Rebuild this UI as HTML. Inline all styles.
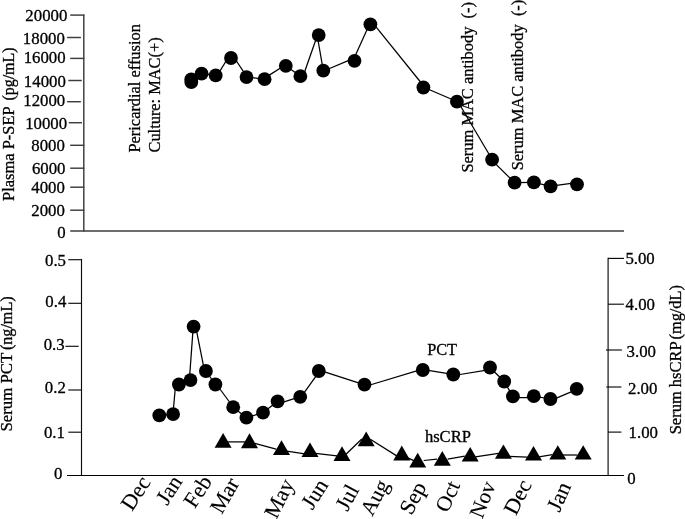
<!DOCTYPE html><html><head><meta charset="utf-8"><title>chart</title><style>html,body{margin:0;padding:0;background:#fff}svg{display:block;filter:grayscale(1)}text{font-family:"Liberation Serif",serif;fill:#000;stroke:#000;stroke-width:0.3px}</style></head><body>
<svg width="685" height="519" viewBox="0 0 685 519">
<rect width="685" height="519" fill="#fff"/>
<g stroke="#3d3d3d" stroke-width="1.45" fill="none">
<path d="M83.8 14.4V231.5"/>
<path d="M70.2 231.0H624"/>
<path d="M70.2 15.1H84.3"/>
<path d="M67.1 37.5H80.9"/>
<path d="M70.2 58.4H84.3"/>
<path d="M68.3 80.5H81.8"/>
<path d="M67.1 101.7H80.9"/>
<path d="M68.8 122.7H82"/>
<path d="M70.2 145.3H84.3"/>
<path d="M70.2 168.2H84.3"/>
<path d="M70.2 187.2H84.3"/>
<path d="M70.2 210.2H84.3"/>
</g>
<g stroke="#0c0c0c" stroke-width="1.15" fill="none">
<path d="M81.5 258.9V475.6"/>
<path d="M67 475.5H624" stroke="#000" stroke-width="1.1"/>
<path d="M68.3 259.7H81.7"/>
<path d="M68.3 303.3H81.7"/>
<path d="M65.4 346.3H78.7"/>
<path d="M68.3 390H81.7"/>
<path d="M68.3 432.2H81.7"/>
<path d="M608.1 257.8V475"/>
<path d="M608 258.4H624.0"/>
<path d="M608 304.2H623.9"/>
<path d="M606 350H621.9"/>
<path d="M606.3 387H621.4"/>
<path d="M608 432.1H621.4"/>
</g>
<text transform="translate(67.3 20.7) scale(1.03 1)" font-size="16.3" text-anchor="end">20000</text>
<text transform="translate(64.8 43.7) scale(1.03 1)" font-size="16.3" text-anchor="end">18000</text>
<text transform="translate(65.6 62.8) scale(1.03 1)" font-size="16.3" text-anchor="end">16000</text>
<text transform="translate(65.8 86.6) scale(1.03 1)" font-size="16.3" text-anchor="end">14000</text>
<text transform="translate(65.19999999999999 105.8) scale(1.03 1)" font-size="16.3" text-anchor="end">12000</text>
<text transform="translate(67.1 128.8) scale(1.03 1)" font-size="16.3" text-anchor="end">10000</text>
<text transform="translate(64.8 151.2) scale(1.03 1)" font-size="16.3" text-anchor="end">8000</text>
<text transform="translate(65.5 174) scale(1.03 1)" font-size="16.3" text-anchor="end">6000</text>
<text transform="translate(64.8 193.2) scale(1.03 1)" font-size="16.3" text-anchor="end">4000</text>
<text transform="translate(64.8 216.4) scale(1.03 1)" font-size="16.3" text-anchor="end">2000</text>
<text transform="translate(65.6 237.8) scale(1.03 1)" font-size="16.3" text-anchor="end">0</text>
<text transform="translate(66.0 265.5) scale(1.03 1)" font-size="16.3" text-anchor="end">0.5</text>
<text transform="translate(66.3 306.6) scale(1.03 1)" font-size="16.3" text-anchor="end">0.4</text>
<text transform="translate(64.7 349.9) scale(1.03 1)" font-size="16.3" text-anchor="end">0.3</text>
<text transform="translate(65.8 393.2) scale(1.03 1)" font-size="16.3" text-anchor="end">0.2</text>
<text transform="translate(64.9 438.4) scale(1.03 1)" font-size="16.3" text-anchor="end">0.1</text>
<text transform="translate(62.5 478.6) scale(1.03 1)" font-size="16.3" text-anchor="end">0</text>
<text transform="translate(625.4 264.3) scale(1.03 1)" font-size="16.3">5.00</text>
<text transform="translate(625.6 310.0) scale(1.03 1)" font-size="16.3">4.00</text>
<text transform="translate(626.6 356.5) scale(1.03 1)" font-size="16.3">3.00</text>
<text transform="translate(628.0 394.4) scale(1.03 1)" font-size="16.3">2.00</text>
<text transform="translate(628.6 437.5) scale(1.03 1)" font-size="16.3">1.00</text>
<text transform="translate(627.2 483.5) scale(1.03 1)" font-size="16.3">0</text>
<text transform="translate(14.2 200.9) rotate(-90) scale(1.008 1)" font-size="16.3" >Plasma P-SEP</text>
<text transform="translate(14.2 100.6) rotate(-90) scale(0.98 1)" font-size="16.3" >(pg/mL)</text>
<text transform="translate(11.5 431.5) rotate(-90) scale(1.03 1)" font-size="16.3" >Serum PCT</text>
<text transform="translate(11.5 350.1) rotate(-90) scale(0.99 1)" font-size="16.3" >(ng/mL)</text>
<text transform="translate(680.8 434.3) rotate(-90) scale(1.012 1)" font-size="16.3" >Serum hsCRP</text>
<text transform="translate(680.8 339.4) rotate(-90) scale(1.0 1)" font-size="16.3" >(mg/dL)</text>
<text transform="translate(139.5 152.5) rotate(-90) scale(1.005 1)" font-size="16.3" >Pericardial effusion</text>
<text transform="translate(159.8 152.5) rotate(-90) scale(1.005 1)" font-size="16.3" >Culture: MAC(+)</text>
<text transform="translate(472.6 172.6) rotate(-90) scale(1.008 1)" font-size="16.3" >Serum MAC antibody&#160;&#160;(-)</text>
<text transform="translate(523.1 170.3) rotate(-90) scale(1.008 1)" font-size="16.3" >Serum MAC antibody&#160;&#160;(-)</text>
<text x="427.2" y="355.4" font-size="16.3">PCT</text>
<text transform="translate(424.9 441.9) scale(1.016 1)" font-size="16.3">hsCRP</text>
<text transform="translate(151.4 482.4) rotate(-57)" font-size="22" text-anchor="end" style="stroke-width:0.12px">Dec</text>
<text transform="translate(183.1 481.6) rotate(-57)" font-size="22" text-anchor="end" style="stroke-width:0.12px">Jan</text>
<text transform="translate(212.7 481.5) rotate(-57)" font-size="22" text-anchor="end" style="stroke-width:0.12px">Feb</text>
<text transform="translate(240.0 483.2) rotate(-60)" font-size="22" text-anchor="end" style="stroke-width:0.12px">Mar</text>
<text transform="translate(294.8 483.8) rotate(-63)" font-size="22" text-anchor="end" style="stroke-width:0.12px">May</text>
<text transform="translate(328.8 484.9) rotate(-58)" font-size="22" text-anchor="end" style="stroke-width:0.12px">Jun</text>
<text transform="translate(359.6 489.6) rotate(-62)" font-size="22" text-anchor="end" style="stroke-width:0.12px">Jul</text>
<text transform="translate(389.7 484.4) rotate(-62)" font-size="21.5" text-anchor="end" style="stroke-width:0.12px">Aug</text>
<text transform="translate(427.0 486.8) rotate(-62)" font-size="22" text-anchor="end" style="stroke-width:0.12px">Sep</text>
<text transform="translate(460.5 485.1) rotate(-66)" font-size="21.5" text-anchor="end" style="stroke-width:0.12px">Oct</text>
<text transform="translate(496.1 485.1) rotate(-68)" font-size="21.5" text-anchor="end" style="stroke-width:0.12px">Nov</text>
<text transform="translate(532.1 484.6) rotate(-63)" font-size="22" text-anchor="end" style="stroke-width:0.12px">Dec</text>
<text transform="translate(571.5 486.3) rotate(-66)" font-size="22" text-anchor="end" style="stroke-width:0.12px">Jan</text>
<g stroke="#000" stroke-width="1.25" fill="none">
<path d="M191.3 79.5L191.3 82.0"/>
<path d="M191.3 82.0L201.6 73.6"/>
<path d="M201.6 73.6L215.7 75.4"/>
<path d="M218.5 73.4L226.7 60.0"/>
<path d="M235.4 59.5L245.0 73.9"/>
<path d="M246.5 77.1L264.6 79.2"/>
<path d="M267.7 76.1L282.5 66.8"/>
<path d="M285.8 65.8L300.4 76.2"/>
<path d="M304.2 73.0L316.2 38.8"/>
<path d="M317.8 39.0L322.6 66.7"/>
<path d="M327.2 69.5L350.6 59.6"/>
<path d="M355.1 56.0L367.9 27.8"/>
<path d="M375.2 25.9L422.1 84.0"/>
<path d="M427.2 88.8L453.4 100.0"/>
<path d="M459.9 105.0L490.4 156.5"/>
<path d="M494.3 162.6L511.6 179.7"/>
<path d="M514.6 182.7L533.9 182.3"/>
<path d="M533.9 182.3L550.6 186.4"/>
<path d="M554.4 185.7L573.1 183.2"/>
<path d="M159.3 415.4L173.1 414.1"/>
<path d="M173.3 410.2L175.3 388.0"/>
<path d="M178.9 384.5L190.5 380.1"/>
<path d="M189.6 376.7L193.0 330.1"/>
<path d="M196.4 330.2L203.8 367.3"/>
<path d="M205.9 371.0L215.4 384.5"/>
<path d="M218.8 387.5L231.7 405.0"/>
<path d="M233.2 407.2L246.4 417.7"/>
<path d="M246.4 417.7L263.0 412.7"/>
<path d="M263.0 412.7L277.6 401.3"/>
<path d="M281.8 402.6L296.5 397.8"/>
<path d="M303.5 393.6L316.9 374.8"/>
<path d="M323.0 371.3L360.8 383.6"/>
<path d="M368.3 385.5L419.2 370.1"/>
<path d="M426.6 370.1L449.7 373.9"/>
<path d="M456.9 375.0L486.7 370.1"/>
<path d="M490.0 367.5L504.2 381.5"/>
<path d="M504.2 381.5L512.9 396.4"/>
<path d="M516.4 397.6L530.6 397.6"/>
<path d="M533.8 396.2L550.4 399.0"/>
<path d="M554.0 399.1L573.6 390.8"/>
<path d="M221.1 441.9L251.5 441.9"/>
<path d="M254.8 443.4L276.1 449.1"/>
<path d="M286.8 451.2L304.8 453.9"/>
<path d="M315.4 453.4L337.0 455.8"/>
<path d="M345.2 455.0L361.8 439.0"/>
<path d="M370.3 439.3L397.1 456.1"/>
<path d="M400.0 454.1L419.5 463.4"/>
<path d="M423.7 460.5L437.0 459.2"/>
<path d="M447.6 459.1L464.8 456.2"/>
<path d="M475.4 456.8L498.4 453.3"/>
<path d="M508.9 456.4L527.5 457.2"/>
<path d="M539.0 456.8L552.4 454.7"/>
<path d="M563.0 455.0L577.2 455.0"/>
</g>
<circle cx="191.3" cy="79.5" r="6.9"/>
<circle cx="191.3" cy="82" r="6.9"/>
<circle cx="201.6" cy="73.6" r="6.9"/>
<circle cx="215.7" cy="75.4" r="6.9"/>
<circle cx="231" cy="58" r="6.9"/>
<circle cx="246.5" cy="77.1" r="6.9"/>
<circle cx="264.6" cy="79.2" r="6.9"/>
<circle cx="285.8" cy="65.8" r="6.9"/>
<circle cx="300.4" cy="76.2" r="6.9"/>
<circle cx="318.7" cy="35.1" r="6.9"/>
<circle cx="323.3" cy="70.6" r="6.9"/>
<circle cx="354.5" cy="60.8" r="6.9"/>
<circle cx="370.4" cy="24.3" r="6.9"/>
<circle cx="423.4" cy="87.5" r="6.9"/>
<circle cx="456.9" cy="101.7" r="6.9"/>
<circle cx="492.1" cy="159.7" r="6.9"/>
<circle cx="514.6" cy="182.7" r="6.9"/>
<circle cx="533.9" cy="182.3" r="6.9"/>
<circle cx="550.6" cy="186.4" r="6.9"/>
<circle cx="577" cy="184.3" r="6.9"/>
<circle cx="159.3" cy="415.4" r="6.9"/>
<circle cx="173.1" cy="414.1" r="6.9"/>
<circle cx="178.9" cy="384.5" r="6.9"/>
<circle cx="190.5" cy="380.1" r="6.9"/>
<circle cx="193.6" cy="326.6" r="6.9"/>
<circle cx="205.9" cy="371.0" r="6.9"/>
<circle cx="215.4" cy="384.5" r="6.9"/>
<circle cx="233.2" cy="407.2" r="6.9"/>
<circle cx="246.4" cy="417.7" r="6.9"/>
<circle cx="263" cy="412.7" r="6.9"/>
<circle cx="277.6" cy="401.3" r="6.9"/>
<circle cx="300.2" cy="396.8" r="6.9"/>
<circle cx="318.8" cy="371.0" r="6.9"/>
<circle cx="364.5" cy="384.6" r="6.9"/>
<circle cx="422.8" cy="370.0" r="6.9"/>
<circle cx="453.3" cy="374.5" r="6.9"/>
<circle cx="490" cy="367.5" r="6.9"/>
<circle cx="504.2" cy="381.5" r="6.9"/>
<circle cx="512.9" cy="396.4" r="6.9"/>
<circle cx="533.8" cy="396.2" r="6.9"/>
<circle cx="550.4" cy="399.0" r="6.9"/>
<circle cx="576.7" cy="388.8" r="6.9"/>
<path d="M223.1 433.0L231.6 447.7H214.6Z"/>
<path d="M249.5 433.2L258.0 448.2H241.0Z"/>
<path d="M281.5 440.3L290.0 455.1H273.0Z"/>
<path d="M310.0 442.4L318.5 457.1H301.5Z"/>
<path d="M342.0 446.2L350.5 460.9H333.5Z"/>
<path d="M366.2 431.5L374.7 446.2H357.7Z"/>
<path d="M401.8 445.6L410.3 460.4H393.3Z"/>
<path d="M417.7 452.8L426.2 467.5H409.2Z"/>
<path d="M442.3 451.1L450.8 465.7H433.8Z"/>
<path d="M470.2 447.0L478.7 461.4H461.7Z"/>
<path d="M503.4 444.4L511.9 458.7H494.9Z"/>
<path d="M533.5 446.1L542.0 460.5H525.0Z"/>
<path d="M557.8 445.2L566.3 459.6H549.3Z"/>
<path d="M583.2 445.2L591.7 459.6H574.7Z"/>
</svg></body></html>
